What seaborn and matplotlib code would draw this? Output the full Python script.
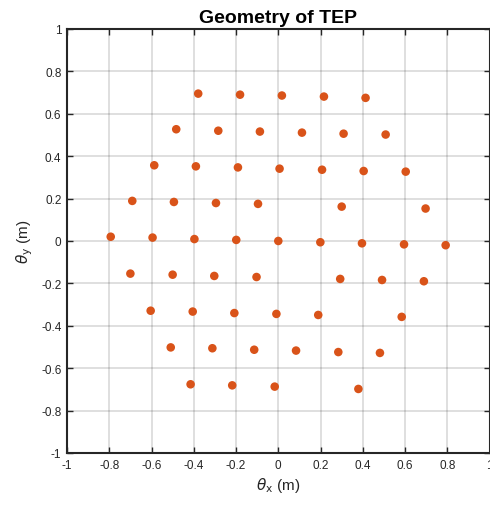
import matplotlib.pyplot as plt
import numpy as np
import pandas as pd
import seaborn as sns


# element positions, row by row (top to bottom)
theta_x = [
    -0.379, -0.181, 0.017, 0.216, 0.413,
    -0.483, -0.284, -0.087, 0.112, 0.309, 0.508,
    -0.587, -0.390, -0.191, 0.006, 0.207, 0.404, 0.603,
    -0.691, -0.494, -0.295, -0.096, 0.300, 0.697,
    -0.793, -0.595, -0.397, -0.199, 0.000, 0.199, 0.396, 0.595, 0.792,
    -0.700, -0.500, -0.303, -0.103, 0.293, 0.491, 0.689,
    -0.604, -0.405, -0.208, -0.009, 0.189, 0.584,
    -0.509, -0.312, -0.114, 0.084, 0.284, 0.481,
    -0.415, -0.218, -0.017, 0.379,
]
theta_y = [
    0.695, 0.690, 0.686, 0.681, 0.675,
    0.527, 0.520, 0.516, 0.511, 0.506, 0.502,
    0.357, 0.352, 0.347, 0.341, 0.336, 0.330, 0.327,
    0.189, 0.184, 0.179, 0.175, 0.162, 0.153,
    0.020, 0.016, 0.009, 0.005, 0.000, -0.006, -0.011, -0.016, -0.020,
    -0.154, -0.159, -0.165, -0.170, -0.179, -0.184, -0.190,
    -0.329, -0.333, -0.340, -0.344, -0.349, -0.358,
    -0.502, -0.506, -0.513, -0.517, -0.524, -0.528,
    -0.676, -0.681, -0.687, -0.698,
]
tick_values = [-1, -0.8, -0.6, -0.4, -0.2, 0, 0.2, 0.4, 0.6, 0.8, 1]
tick_labels = ["-1", "-0.8", "-0.6", "-0.4", "-0.2", "0", "0.2", "0.4", "0.6", "0.8", "1"]


def main() -> None:
    sns.set_theme(style="whitegrid")
    plt.rcParams["font.family"] = ["Liberation Sans", "DejaVu Sans"]

    df = pd.DataFrame({"theta_x": theta_x, "theta_y": theta_y})

    fig = plt.figure(figsize=(4.9, 5.06), dpi=100)
    ax = fig.add_axes([0.1367, 0.1028, 0.8625, 0.838])
    ax.set_facecolor("white")

    sns.scatterplot(
        data=df, x="theta_x", y="theta_y", ax=ax,
        color="#D95319", s=38, edgecolor="none", zorder=3,
    )

    ax.set_xlim(-1, 1)
    ax.set_ylim(-1, 1)
    ax.set_xticks(tick_values)
    ax.set_yticks(tick_values)
    ax.set_xticklabels(tick_labels)
    ax.set_yticklabels(tick_labels)
    ax.grid(True, color="#000000", alpha=0.15, linewidth=1.2)
    ax.tick_params(
        axis="both", direction="in", length=4, width=1.0, color="#262626",
        labelsize=8.5, labelcolor="#262626", top=True, right=True,
        bottom=True, left=True, pad=4,
    )
    for spine in ax.spines.values():
        spine.set_visible(True)
        spine.set_color("#262626")
        spine.set_linewidth(1.5)

    ax.set_title("Geometry of TEP", fontsize=14, fontweight="bold", color="black", pad=5)
    ax.set_xlabel(r"$\theta_{\rm x}$ (m)", fontsize=11, color="#262626", labelpad=3)
    ax.set_ylabel(r"$\theta_{\rm y}$ (m)", fontsize=11, color="#262626", labelpad=4)

    fig.savefig("out.png", dpi=100)
    plt.close(fig)


if __name__ == "__main__":
    main()
